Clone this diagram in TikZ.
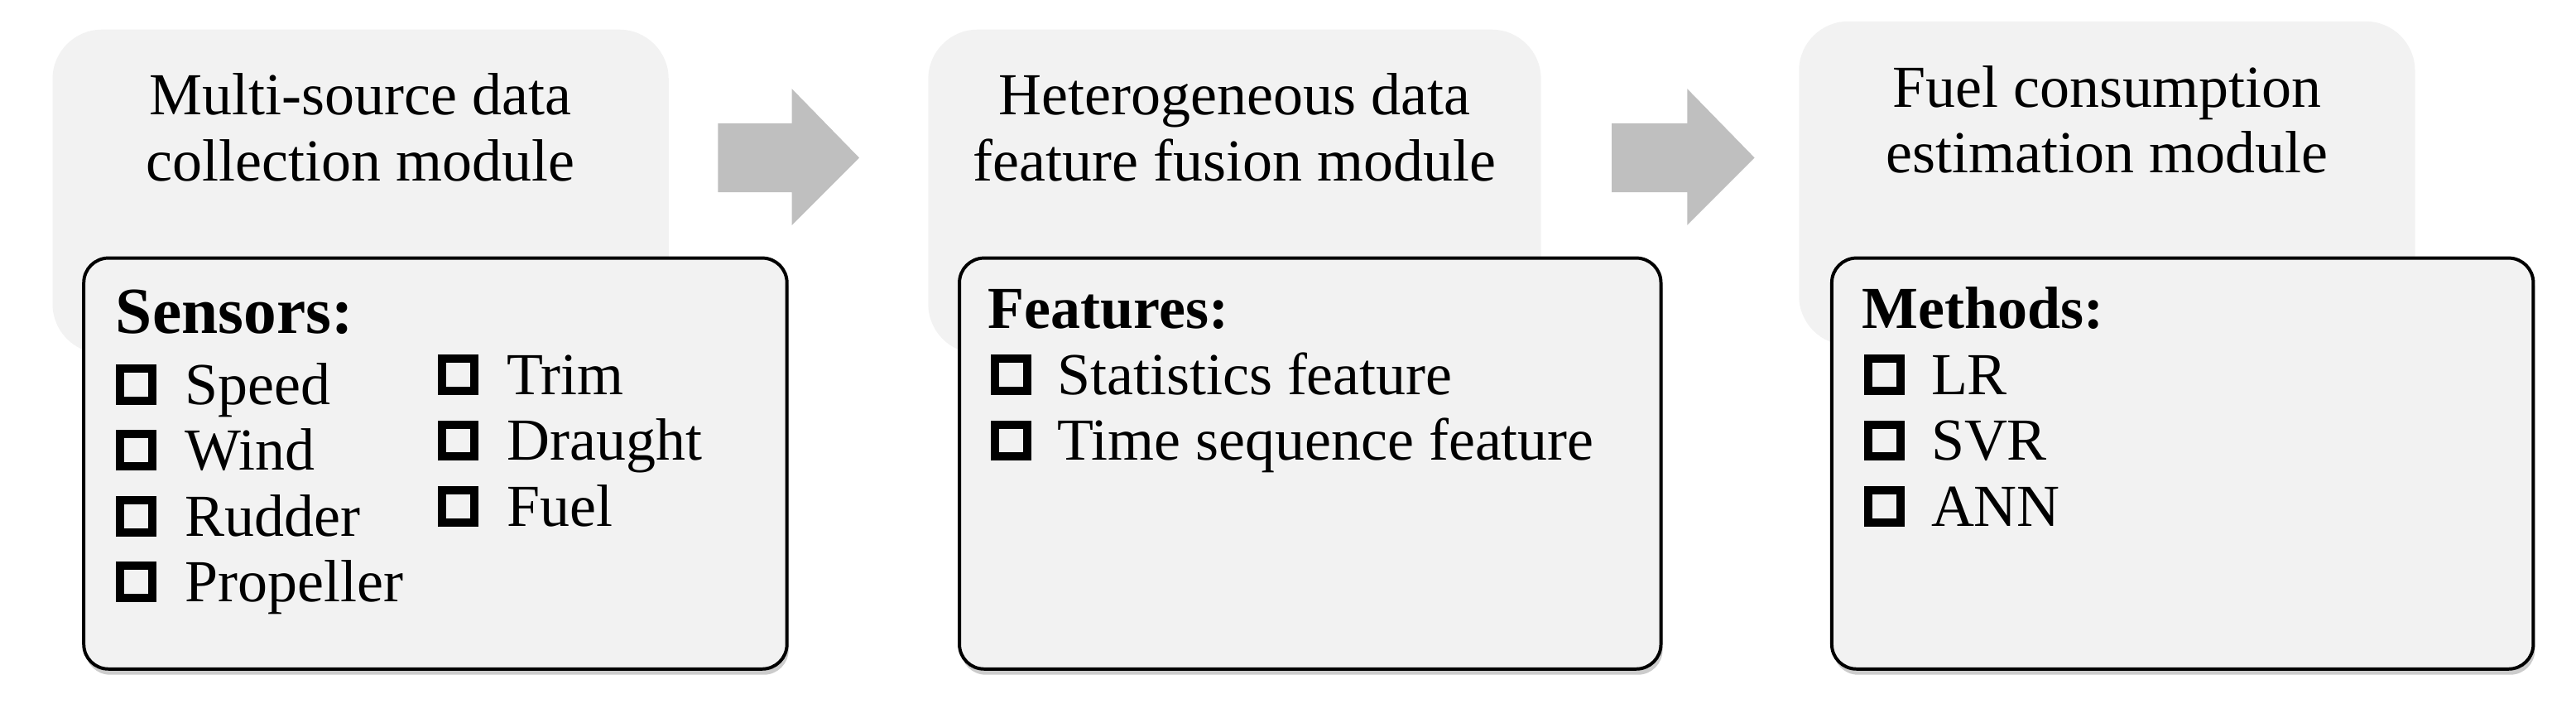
\documentclass[tikz,border=0pt]{standalone}
\usepackage{fontspec}
\setmainfont{Liberation Serif}
\usetikzlibrary{shadows,fit}
\definecolor{boxgray}{HTML}{F2F2F2}
\definecolor{arrowgray}{HTML}{BFBFBF}
\tikzset{
 backbox/.style={fill=boxgray, rounded corners=12pt, inner sep=0pt, draw=none},
 frontbox/.style={fill=boxgray, draw=black, line width=0.8pt, rounded corners=6pt, inner sep=0pt,
   drop shadow={shadow xshift=0.4pt, shadow yshift=-1.4pt, opacity=0.2, fill=black}},
 titletext/.style={font=\fontsize{14.5}{17}\selectfont, anchor=base, inner sep=0pt},
 headtext/.style={font=\fontsize{14.5}{17}\selectfont\bfseries, anchor=base west, inner sep=0pt},
 bighead/.style={headtext, font=\fontsize{16}{19}\selectfont\bfseries},
 itemtext/.style={font=\fontsize{14.5}{17}\selectfont, anchor=base west, inner sep=0pt},
 chk/.style={draw=black, line width=2pt, minimum size=7.8pt, inner sep=0pt, rectangle},
 blockarrow/.style={fill=arrowgray, draw=none},
}
\begin{document}
\begin{tikzpicture}[x=0.4pt,y=-0.4pt]
\useasboundingbox (0,0) rectangle (1568,439.4);
% background module boxes
\node[backbox, fit={(32,18) (407,215)}] (m1) {};
\node[backbox, fit={(565,18) (938,215)}] (m2) {};
\node[backbox, fit={(1095,13) (1470,210)}] (m3) {};
% titles
\node[titletext] (t1a) at (219.5,70) {Multi-source data};
\node[titletext] (t1b) at (219.5,110) {collection module};
\node[titletext] (t2a) at (751.5,70) {Heterogeneous data};
\node[titletext] (t2b) at (751.5,110) {feature fusion module};
\node[titletext] (t3a) at (1282.5,65) {Fuel consumption};
\node[titletext] (t3b) at (1282.5,105) {estimation module};
% block arrows
\coordinate (a1) at (437,96);
\coordinate (a2) at (981,96);
\fill[blockarrow] (a1) ++(0,-21) -- ++(45,0) -- ++(0,-21) -- ++(41,42) -- ++(-41,41) -- ++(0,-20) -- ++(-45,0) -- cycle;
\fill[blockarrow] (a2) ++(0,-21) -- ++(46,0) -- ++(0,-21) -- ++(41,42) -- ++(-41,41) -- ++(0,-20) -- ++(-46,0) -- cycle;
% front boxes
\node[frontbox, fit={(51,157) (479,407)}] (f1) {};
\node[frontbox, fit={(584,157) (1011,407)}] (f2) {};
\node[frontbox, fit={(1115,157) (1542,407)}] (f3) {};
% box 1 contents
\node[bighead] (h1) at (70,203) {Sensors:};
\node[chk] (c11) at (82.8,234) {};
\node[itemtext] (i11) at (112,246) {Speed};
\node[chk] (c12) at (82.8,274) {};
\node[itemtext] (i12) at (112,286) {Wind};
\node[chk] (c13) at (82.8,314) {};
\node[itemtext] (i13) at (112,326) {Rudder};
\node[chk] (c14) at (82.8,354) {};
\node[itemtext] (i14) at (112,366) {Propeller};
\node[chk] (c15) at (279,228) {};
\node[itemtext] (i15) at (308,240) {Trim};
\node[chk] (c16) at (279,268) {};
\node[itemtext] (i16) at (308,280) {Draught};
\node[chk] (c17) at (279,308) {};
\node[itemtext] (i17) at (308,320) {Fuel};
% box 2 contents
\node[headtext] (h2) at (601,200) {Features:};
\node[chk] (c21) at (615.5,228) {};
\node[itemtext] (i21) at (643,240) {Statistics feature};
\node[chk] (c22) at (615.5,268) {};
\node[itemtext] (i22) at (643,280) {Time sequence feature};
% box 3 contents
\node[headtext] (h3) at (1133,200) {Methods:};
\node[chk] (c31) at (1147,228) {};
\node[itemtext] (i31) at (1175,240) {LR};
\node[chk] (c32) at (1147,268) {};
\node[itemtext] (i32) at (1175,280) {SVR};
\node[chk] (c33) at (1147,308) {};
\node[itemtext] (i33) at (1175,320) {ANN};
\end{tikzpicture}
\end{document}
